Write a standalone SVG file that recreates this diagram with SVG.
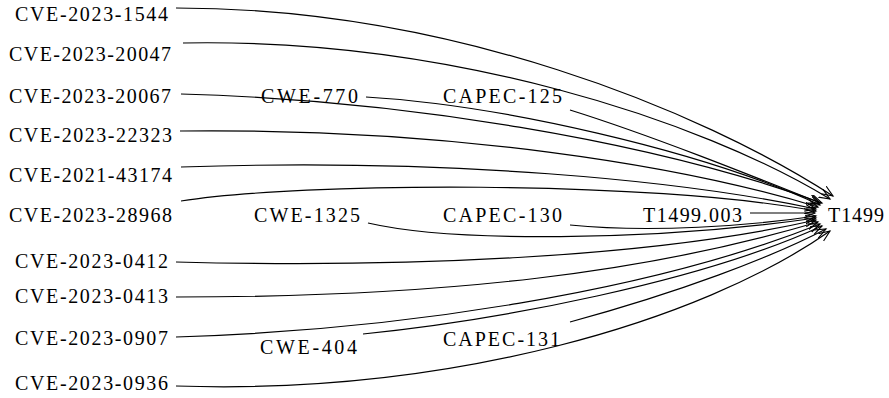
<svg xmlns="http://www.w3.org/2000/svg" width="889" height="398" viewBox="0 0 889 398">
<style>
text{font-family:"Liberation Serif","Times New Roman",serif;font-size:20px;fill:#000}
.e{fill:none;stroke:#000;stroke-width:1.2;marker-end:url(#ah)}
</style>
<defs>
<marker id="ah" markerUnits="userSpaceOnUse" markerWidth="14" markerHeight="12" refX="11" refY="5" orient="auto">
<path d="M0,0.5 L11,5 L0,9.5" fill="none" stroke="#000" stroke-width="1.1"/>
</marker>
</defs>
<rect width="889" height="398" fill="#fff"/>
<g id="edges">
<path class="e" d="M176,8 C450,8 700,110 833,196"/>
<path class="e" d="M183,43 C450,38 700,120 830,199"/>
<path class="e" d="M181,94 C400,100 650,140 822,203"/>
<path class="e" d="M366,97 C500,105 700,150 820,205"/>
<path class="e" d="M570,110 C650,135 750,175 820,203"/>
<path class="e" d="M180,131 C450,128 680,165 818,207"/>
<path class="e" d="M181,167 C450,158 680,180 816,209"/>
<path class="e" d="M181,201 C300,182 650,180 816,211"/>
<path class="e" d="M368,223 C450,242 650,242 816,218"/>
<path class="e" d="M570,225 C650,233 750,226 816,216"/>
<path class="e" d="M750,213 L815,213"/>
<path class="e" d="M176,262 C400,268 650,258 816,220"/>
<path class="e" d="M176,297 C450,297 650,272 818,222"/>
<path class="e" d="M176,337 C400,330 650,292 820,224"/>
<path class="e" d="M363,334 C500,320 700,282 822,226"/>
<path class="e" d="M570,322 C680,292 770,258 826,229"/>
<path class="e" d="M176,386 C450,395 700,322 830,231"/>
</g>
<g id="n-cve-2023-1544"><text x="15" y="21" textLength="153">CVE-2023-1544</text></g>
<g id="n-cve-2023-20047"><text x="9" y="61" textLength="162">CVE-2023-20047</text></g>
<g id="n-cve-2023-20067"><text x="9" y="103" textLength="162">CVE-2023-20067</text></g>
<g id="n-cve-2023-22323"><text x="9" y="142" textLength="163">CVE-2023-22323</text></g>
<g id="n-cve-2021-43174"><text x="9" y="182" textLength="163">CVE-2021-43174</text></g>
<g id="n-cve-2023-28968"><text x="9" y="222" textLength="163">CVE-2023-28968</text></g>
<g id="n-cve-2023-0412"><text x="15" y="268" textLength="153">CVE-2023-0412</text></g>
<g id="n-cve-2023-0413"><text x="15" y="303" textLength="153">CVE-2023-0413</text></g>
<g id="n-cve-2023-0907"><text x="15" y="345" textLength="153">CVE-2023-0907</text></g>
<g id="n-cve-2023-0936"><text x="15" y="390" textLength="153">CVE-2023-0936</text></g>
<g id="n-cwe-770"><text x="261" y="103" textLength="97">CWE-770</text></g>
<g id="n-capec-125"><text x="443" y="103" textLength="119">CAPEC-125</text></g>
<g id="n-cwe-1325"><text x="254" y="222" textLength="106">CWE-1325</text></g>
<g id="n-capec-130"><text x="443" y="222" textLength="119">CAPEC-130</text></g>
<g id="n-t1499-003"><text x="643" y="222" textLength="99">T1499.003</text></g>
<g id="n-cwe-404"><text x="260" y="354" textLength="97">CWE-404</text></g>
<g id="n-capec-131"><text x="443" y="346" textLength="117">CAPEC-131</text></g>
<g id="n-t1499"><text x="828" y="222" textLength="56">T1499</text></g>
</svg>
